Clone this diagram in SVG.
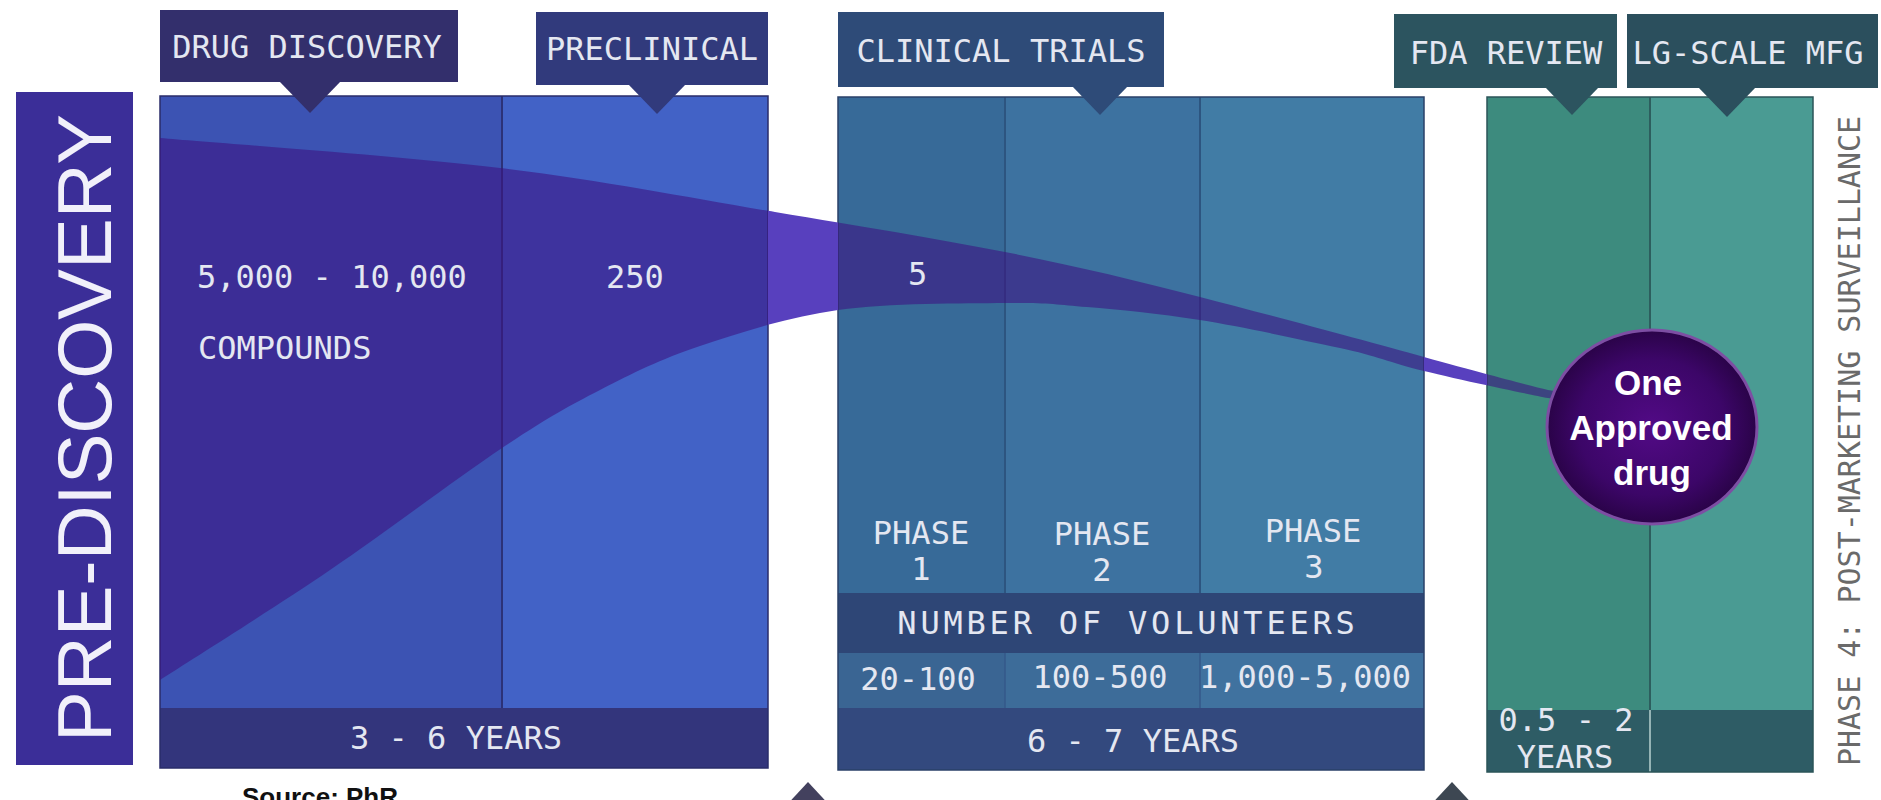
<svg xmlns="http://www.w3.org/2000/svg" xmlns:xlink="http://www.w3.org/1999/xlink" width="1881" height="800" viewBox="0 0 1881 800">
  <style>
    .mono { font-family: "DejaVu Sans Mono", "Liberation Mono", monospace; font-size: 32px; fill: #e4e7f1; }
    .mid { text-anchor: middle; }
    .div-dark { stroke-width: 2; }
    .bubble { font-family: "Liberation Sans", Arial, sans-serif; font-weight: bold; font-size: 35px; fill: #ffffff; text-anchor: middle; }
  </style>
  <defs>
    <!-- attrition band: thousands of compounds narrowing to a single drug -->
    <path id="funnel" d="M160,138 C217,143 397.5,155.7 500,168 C602.5,180.3 690.8,198 775,212 C859.2,226 934.2,238.2 1005,252 C1075.8,265.8 1132,279.5 1200,297 C1270,315 1366,341 1424,357 C1482,373 1527.3,385 1548,390 L1610,400 L1610,406 L1548,398 C1527.3,394 1460,380 1424,371 C1389.3,362.5 1377.3,356 1340,348 C1302.7,340 1242.2,326.7 1200,320 C1157.8,313.3 1119.5,309.8 1087,307 C1054.5,304.2 1046.5,302.5 1005,303 C963.5,303.5 888.8,302.8 838,310 C787.2,317.2 739.7,332.7 700,346 C660.3,359.3 633,373 600,390 C567,407 547,418 502,448 C457,478 387,531.3 330,570 C273,608.7 188.3,661.7 160,680 Z"/>
    <clipPath id="on-panels">
      <rect x="160" y="96" width="608" height="612"/>
      <rect x="838" y="97" width="586" height="496"/>
      <rect x="1487" y="97" width="326" height="613"/>
    </clipPath>
    <clipPath id="in-gaps">
      <rect x="768" y="0" width="70" height="800"/>
      <rect x="1424" y="0" width="63" height="800"/>
    </clipPath>
    <radialGradient id="bubble-fill" cx="0.5" cy="0.5" r="0.5">
      <stop offset="0" stop-color="#520a86"/>
      <stop offset="0.7" stop-color="#3c0668"/>
      <stop offset="1" stop-color="#2a0348"/>
    </radialGradient>
  </defs>

  <rect width="1881" height="800" fill="#ffffff"/>

  <!-- vertical stage bar on the far left -->
  <g id="pre-discovery">
    <rect x="16" y="92" width="117" height="673" fill="#3b2e98"/>
    <text transform="translate(111,428) rotate(-90)" text-anchor="middle" font-family="'Liberation Sans', Arial, sans-serif" font-size="76" fill="#f1f0fa">PRE-DISCOVERY</text>
  </g>

  <!-- discovery + preclinical panel -->
  <g id="discovery-panel">
    <rect x="160" y="96" width="342" height="612" fill="#3c53b3"/>
    <rect x="502" y="96" width="266" height="612" fill="#4262c6"/>
    <line x1="502" y1="96" x2="502" y2="708" stroke="#2c3278" class="div-dark"/>
    <rect x="160" y="708" width="608" height="60" fill="#33357c"/>
    <rect x="160" y="96" width="608" height="672" fill="none" stroke="#2a2d6a" stroke-width="1.5"/>
  </g>

  <!-- clinical trials panel -->
  <g id="clinical-panel">
    <rect x="838" y="97" width="167" height="496" fill="#376a98"/>
    <rect x="1005" y="97" width="195" height="496" fill="#3d72a0"/>
    <rect x="1200" y="97" width="224" height="496" fill="#417ca5"/>
    <rect x="838" y="593" width="586" height="60" fill="#2e4676"/>
    <rect x="838" y="653" width="167" height="55" fill="#3a6593"/>
    <rect x="1005" y="653" width="195" height="55" fill="#3d6c99"/>
    <rect x="1200" y="653" width="224" height="55" fill="#40729f"/>
    <rect x="838" y="708" width="586" height="62" fill="#33497e"/>
    <line x1="1005" y1="97" x2="1005" y2="593" stroke="#2d5580" class="div-dark"/>
    <line x1="1200" y1="97" x2="1200" y2="593" stroke="#2d5580" class="div-dark"/>
    <line x1="1005" y1="653" x2="1005" y2="708" stroke="#34598a" stroke-width="1.5"/>
    <line x1="1200" y1="653" x2="1200" y2="708" stroke="#34598a" stroke-width="1.5"/>
    <rect x="838" y="97" width="586" height="673" fill="none" stroke="#2a4068" stroke-width="1.5"/>
  </g>

  <!-- FDA review + large-scale manufacturing panel -->
  <g id="approval-panel">
    <rect x="1487" y="97" width="163" height="613" fill="#3d8b7e"/>
    <rect x="1650" y="97" width="163" height="613" fill="#4a9b93"/>
    <line x1="1650" y1="97" x2="1650" y2="710" stroke="#2d5e5e" class="div-dark"/>
    <rect x="1487" y="710" width="326" height="62" fill="#2e5c65"/>
    <line x1="1650" y1="710" x2="1650" y2="772" stroke="#b9d2d0" stroke-width="1.5"/>
    <rect x="1487" y="97" width="326" height="675" fill="none" stroke="#2b5458" stroke-width="1.5"/>
  </g>

  <!-- attrition band -->
  <g id="connectors">
    <use xlink:href="#funnel" href="#funnel" fill="#3c1281" fill-opacity="0.58" clip-path="url(#on-panels)"/>
    <use xlink:href="#funnel" href="#funnel" fill="#5840be" clip-path="url(#in-gaps)"/>
  </g>

  <!-- panel contents -->
  <g id="discovery-text">
    <text class="mono" x="197" y="288">5,000 - 10,000</text>
    <text class="mono" x="198" y="359">COMPOUNDS</text>
    <text class="mono" x="606" y="288">250</text>
    <text class="mono mid" x="456" y="749">3 - 6 YEARS</text>
  </g>

  <g id="clinical-text">
    <text class="mono" x="908" y="285">5</text>
    <text class="mono mid" x="921" y="544">PHASE</text>
    <text class="mono mid" x="921" y="580">1</text>
    <text class="mono mid" x="1102" y="545">PHASE</text>
    <text class="mono mid" x="1102" y="581">2</text>
    <text class="mono mid" x="1313" y="542">PHASE</text>
    <text class="mono mid" x="1314" y="578">3</text>
    <text class="mono mid" x="1128" y="634" font-size="33" letter-spacing="3.8">NUMBER OF VOLUNTEERS</text>
    <text class="mono mid" x="918" y="690">20-100</text>
    <text class="mono mid" x="1100" y="688">100-500</text>
    <text class="mono mid" x="1305" y="688" font-size="28.5">1,000-5,000</text>
    <text class="mono mid" x="1133" y="752">6 - 7 YEARS</text>
  </g>

  <g id="approval-text">
    <text class="mono mid" x="1566" y="731" font-size="25">0.5 - 2</text>
    <text class="mono mid" x="1565" y="768" font-size="25">YEARS</text>
  </g>

  <!-- stage tags with pointers -->
  <g id="tag-drug-discovery">
    <rect x="160" y="10" width="298" height="72" fill="#332f6c"/>
    <polygon points="279,81 341,81 310,113" fill="#332f6c"/>
    <text class="mono mid" x="307" y="58" font-size="31">DRUG DISCOVERY</text>
  </g>
  <g id="tag-preclinical">
    <rect x="536" y="12" width="232" height="73" fill="#313a7c"/>
    <polygon points="628,84 686,84 657,114" fill="#313a7c"/>
    <text class="mono mid" x="652" y="60" font-size="31">PRECLINICAL</text>
  </g>
  <g id="tag-clinical-trials">
    <rect x="838" y="12" width="326" height="75" fill="#2e4b78"/>
    <polygon points="1072,86 1128,86 1100,115" fill="#2e4b78"/>
    <text class="mono mid" x="1001" y="62">CLINICAL TRIALS</text>
  </g>
  <g id="tag-fda-review">
    <rect x="1394" y="14" width="223" height="74" fill="#2c545f"/>
    <polygon points="1545,87 1599,87 1572,115" fill="#2c545f"/>
    <text class="mono mid" x="1506" y="64">FDA REVIEW</text>
  </g>
  <g id="tag-lg-scale-mfg">
    <rect x="1627" y="14" width="251" height="74" fill="#2b4f5d"/>
    <polygon points="1698,87 1756,87 1727,117" fill="#2b4f5d"/>
    <text class="mono mid" x="1748" y="64">LG-SCALE MFG</text>
  </g>

  <!-- phase 4 side caption -->
  <g id="phase-4">
    <text transform="translate(1860,441) rotate(-90)" class="mid" font-family="'DejaVu Sans Mono', 'Liberation Mono', monospace" font-size="30" fill="#6a6a6a">PHASE 4: POST-MARKETING SURVEILLANCE</text>
  </g>

  <!-- end point of the band -->
  <g id="approved-drug">
    <ellipse cx="1652" cy="427" rx="105" ry="97" fill="url(#bubble-fill)" stroke="#7d4ea3" stroke-width="3"/>
    <text class="bubble" x="1648" y="395">One</text>
    <text class="bubble" x="1651" y="440">Approved</text>
    <text class="bubble" x="1652" y="485">drug</text>
  </g>

  <!-- pointers of the row below, cut by the bottom edge -->
  <g id="bottom-markers">
    <polygon points="808,782 834,810 782,810" fill="#43415e"/>
    <polygon points="1452,782 1478,810 1426,810" fill="#3d4752"/>
  </g>

  <g id="source-note">
    <text x="242" y="806" font-family="'Liberation Sans', Arial, sans-serif" font-weight="bold" font-size="26" fill="#111111">Source: PhR</text>
  </g>
</svg>
